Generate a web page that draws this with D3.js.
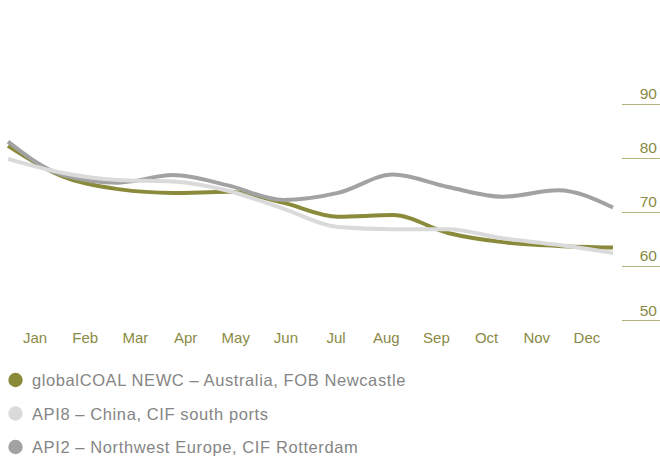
<!DOCTYPE html>
<html>
<head>
<meta charset="utf-8">
<script src="https://cdn.jsdelivr.net/npm/d3@7"></script>
<style>
  html, body { margin: 0; padding: 0; background: #ffffff; }
  svg { display: block; font-family: "Liberation Sans", Arial, Helvetica, sans-serif; }
</style>
</head>
<body>
<svg id="chart" width="660" height="459"></svg>
<script>
// Monthly coal price indices (USD/t)
const months = ["Jan", "Feb", "Mar", "Apr", "May", "Jun", "Jul", "Aug", "Sep", "Oct", "Nov", "Dec"];
const newc = [82.2, 76.5, 74.2, 73.5, 73.7, 71.7, 69.1, 69.4, 66.1, 64.4, 63.7, 63.4];
const api8 = [79.8, 77.2, 75.9, 75.6, 73.9, 70.6, 67.2, 66.8, 66.8, 65.1, 63.9, 62.4];
const api2 = [83.0, 76.8, 75.4, 76.8, 74.9, 72.2, 73.5, 76.9, 74.6, 72.8, 74.0, 70.8];
const yTicks = [50, 60, 70, 80, 90];

const seriesNames = [
  "globalCOAL NEWC – Australia, FOB Newcastle",
  "API8 – China, CIF south ports",
  "API2 – Northwest Europe, CIF Rotterdam"
];
const seriesColors = ["#8a8a3b", "#dadada", "#a2a2a2"];
const seriesValues = [newc, api8, api2];

const olive = "#8a8a45";
const svg = d3.select("#chart");

const x = d3.scaleLinear().domain([0, months.length - 1]).range([8, 613]);
const y = d3.scaleLinear().domain([50, 90]).range([320, 103.7]);
const xLabels = d3.scaleBand().domain(months).range([10, 612]);

// Right-hand value axis: short rules with the value above each
const yAxis = svg.append("g").attr("class", "y-axis");
yAxis.selectAll("line").data(yTicks).join("line")
  .attr("x1", 622).attr("x2", 660)
  .attr("y1", d => Math.round(y(d)) + 0.5).attr("y2", d => Math.round(y(d)) + 0.5)
  .attr("stroke", "#b4b47c").attr("stroke-width", 1.2);
yAxis.selectAll("text").data(yTicks).join("text")
  .attr("x", 657).attr("y", d => y(d) - 4.5)
  .attr("text-anchor", "end")
  .attr("font-size", 15.5)
  .attr("fill", olive)
  .text(d => d);

// Month labels
svg.append("g").attr("class", "x-axis")
  .selectAll("text").data(months).join("text")
  .attr("x", d => xLabels(d) + xLabels.bandwidth() / 2)
  .attr("y", 342.5)
  .attr("text-anchor", "middle")
  .attr("font-size", 15)
  .attr("fill", olive)
  .text(d => d);

// Price lines
const line = d3.line()
  .x((d, i) => x(i))
  .y(d => y(d))
  .curve(d3.curveMonotoneX);

const drawOrder = [0, 2, 1];
svg.append("g").attr("class", "lines")
  .selectAll("path").data(drawOrder).join("path")
  .attr("d", i => line(seriesValues[i]))
  .attr("fill", "none")
  .attr("stroke", i => seriesColors[i])
  .attr("stroke-width", 4)
  .attr("stroke-linecap", "butt")
  .attr("stroke-linejoin", "round");

// Legend
const legend = svg.append("g").attr("class", "legend")
  .selectAll("g").data(seriesNames).join("g")
  .attr("transform", (d, i) => `translate(0, ${380 + i * 33.5})`);
legend.append("circle")
  .attr("cx", 15.5).attr("cy", 0).attr("r", 7.2)
  .attr("fill", (d, i) => seriesColors[i]);
legend.append("text")
  .attr("x", 32).attr("y", 6)
  .attr("font-size", 16.5)
  .attr("letter-spacing", 0.6)
  .attr("fill", "#858585")
  .text(d => d);
</script>
</body>
</html>
